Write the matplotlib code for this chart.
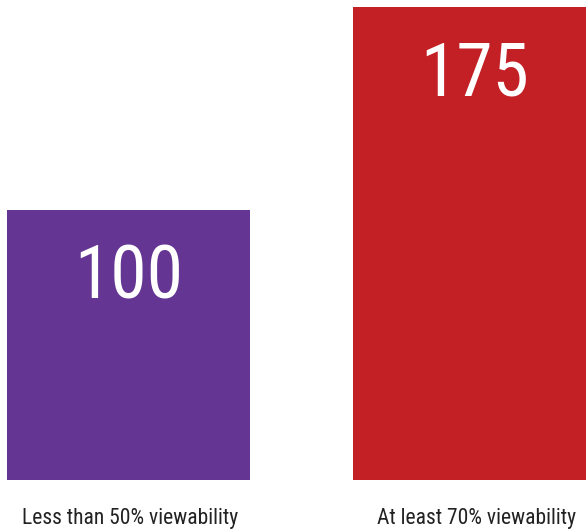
import matplotlib
matplotlib.use("Agg")
import matplotlib.pyplot as plt

categories = ["Less than 50% viewability", "At least 70% viewability"]
values = [100, 175]
colors = ["#643592", "#C32026"]
positions = [0, 1.424]

plt.rcParams['font.family'] = ['Roboto Condensed', 'Liberation Sans Narrow', 'DejaVu Sans']


def main():
    fig = plt.figure(figsize=(5.86, 5.31), dpi=100)
    ax = fig.add_axes([0, 0.096, 1, 0.904])

    bars = ax.bar(positions, values, width=1.0, color=colors)

    # value label inside each bar, near its top
    for bar, val in zip(bars, values):
        cx = bar.get_x() + bar.get_width() / 2
        ax.annotate(str(val), (cx, val), xytext=(0, -68), textcoords='offset pixels',
                    ha='center', va='center', color='white', fontsize=53)

    # category names under the bars
    for x, label in zip(positions, categories):
        ax.annotate(label, (x, 0), xytext=(2, -38), textcoords='offset pixels',
                    ha='center', va='center', color='#222222', fontsize=15.5,
                    annotation_clip=False)

    ax.set_xlim(-0.529, 1.883)
    ax.set_ylim(0, 177.6)
    ax.axis('off')

    fig.savefig("out.png", dpi=100)


if __name__ == "__main__":
    main()
